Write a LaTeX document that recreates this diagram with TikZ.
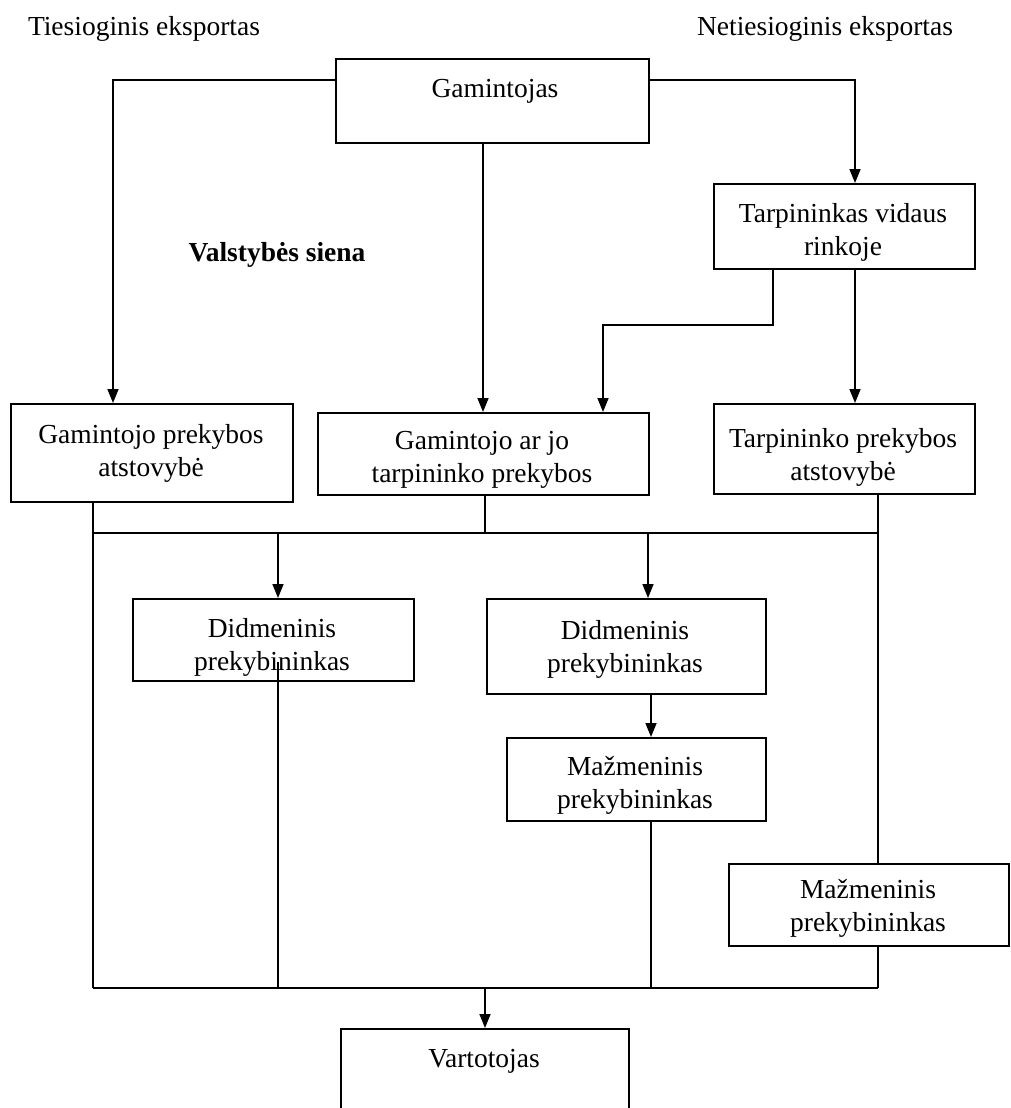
\documentclass[tikz,border=0pt]{standalone}
\usepackage{fontspec}
\setmainfont{Liberation Serif}
\usetikzlibrary{arrows.meta}
\newcommand{\fsz}{\fontsize{27.5pt}{33pt}\selectfont}
\tikzset{
  box/.style={draw, line width=2pt, inner sep=0pt, anchor=north west},
  lbl/.style={align=center, font=\fsz, inner sep=0pt},
  ln/.style={line width=1.6pt},
  arr/.style={line width=1.6pt, -{Triangle[length=14pt,width=11pt]}}
}
\begin{document}
\begin{tikzpicture}[x=1pt,y=-1pt]
\clip (0,0) rectangle (1011,1108);
\fill[white] (0,0) rectangle (1011,1108);

% top labels
\node[lbl] (t1) at (144,29) {Tiesioginis eksportas};
\node[lbl] (t2) at (825,29) {Netiesioginis eksportas};
\node[lbl, font=\fsz\bfseries] (vs) at (277,255) {Valstybės siena};

% boxes
\node[box, minimum width=313pt, minimum height=84pt] (gam) at (335,58) {};
\node[lbl] (gamt) at (495,91) {Gamintojas};

\node[box, minimum width=261pt, minimum height=85pt] (tvr) at (713,183) {};
\node[lbl] (tvrt) at (843,232) {Tarpininkas vidaus\\rinkoje};

\node[box, minimum width=282pt, minimum height=98pt] (gpa) at (10,403) {};
\node[lbl] (gpat) at (151,453) {Gamintojo prekybos\\atstovybė};

\node[box, minimum width=331pt, minimum height=82pt] (gjt) at (317,412) {};
\node[lbl] (gjtt) at (482,460) {Gamintojo ar jo\\tarpininko prekybos};

\node[box, minimum width=261pt, minimum height=90pt] (tpa) at (713,403) {};
\node[lbl] (tpat) at (843,457) {Tarpininko prekybos\\atstovybė};

\node[box, minimum width=281pt, minimum height=82pt] (dp1) at (132,598) {};
\node[lbl] (dp1t) at (272,647) {Didmeninis\\prekybininkas};

\node[box, minimum width=279pt, minimum height=95pt] (dp2) at (486,598) {};
\node[lbl] (dp2t) at (625,649) {Didmeninis\\prekybininkas};

\node[box, minimum width=259pt, minimum height=83pt] (mp2) at (506,737) {};
\node[lbl] (mp2t) at (635,785) {Mažmeninis\\prekybininkas};

\node[box, minimum width=280pt, minimum height=82pt] (mp3) at (728,863) {};
\node[lbl] (mp3t) at (868,908) {Mažmeninis\\prekybininkas};

\node[box, minimum width=288pt, minimum height=120pt] (vart) at (340,1028) {};
\node[lbl] (vartt) at (484,1061) {Vartotojas};

% junction coordinates
\coordinate (b1l) at (93,533);
\coordinate (b1r) at (878,533);
\coordinate (b2l) at (93,988);
\coordinate (b2r) at (878,988);
\coordinate (kink) at (603,325);
\coordinate (dp1in) at (278,662);

% connectors
\draw[arr] (gam.west |- 0,80) -| (gpa.north -| 113,0);
\draw[arr] (gam.south -| 483,0) -- (gjt.north -| 483,0);
\draw[arr] (gam.east |- 0,80) -| (tvr.north -| 855,0);
\draw[arr] (tvr.south -| 773,0) |- (kink) -- (gjt.north -| 603,0);
\draw[arr] (tvr.south -| 855,0) -- (tpa.north -| 855,0);

\draw[ln] (gpa.south -| b1l) -- (b2l);
\draw[ln] (gjt.south -| 485,0) -- (b1l -| 485,0);
\draw[ln] (tpa.south -| b1r) -- (mp3.north -| b1r);
\draw[ln] (b1l) -- (b1r);
\draw[arr] (b1l -| 278,0) -- (dp1.north -| 278,0);
\draw[arr] (b1l -| 648,0) -- (dp2.north -| 648,0);
\draw[arr] (dp2.south -| 651,0) -- (mp2.north -| 651,0);

\draw[ln] (dp1in) -- (b2l -| dp1in);
\draw[ln] (mp2.south -| 651,0) -- (b2l -| 651,0);
\draw[ln] (mp3.south -| b2r) -- (b2r);
\draw[ln] (b2l) -- (b2r);
\draw[arr] (b2l -| 485,0) -- (vart.north -| 485,0);
\end{tikzpicture}
\end{document}
